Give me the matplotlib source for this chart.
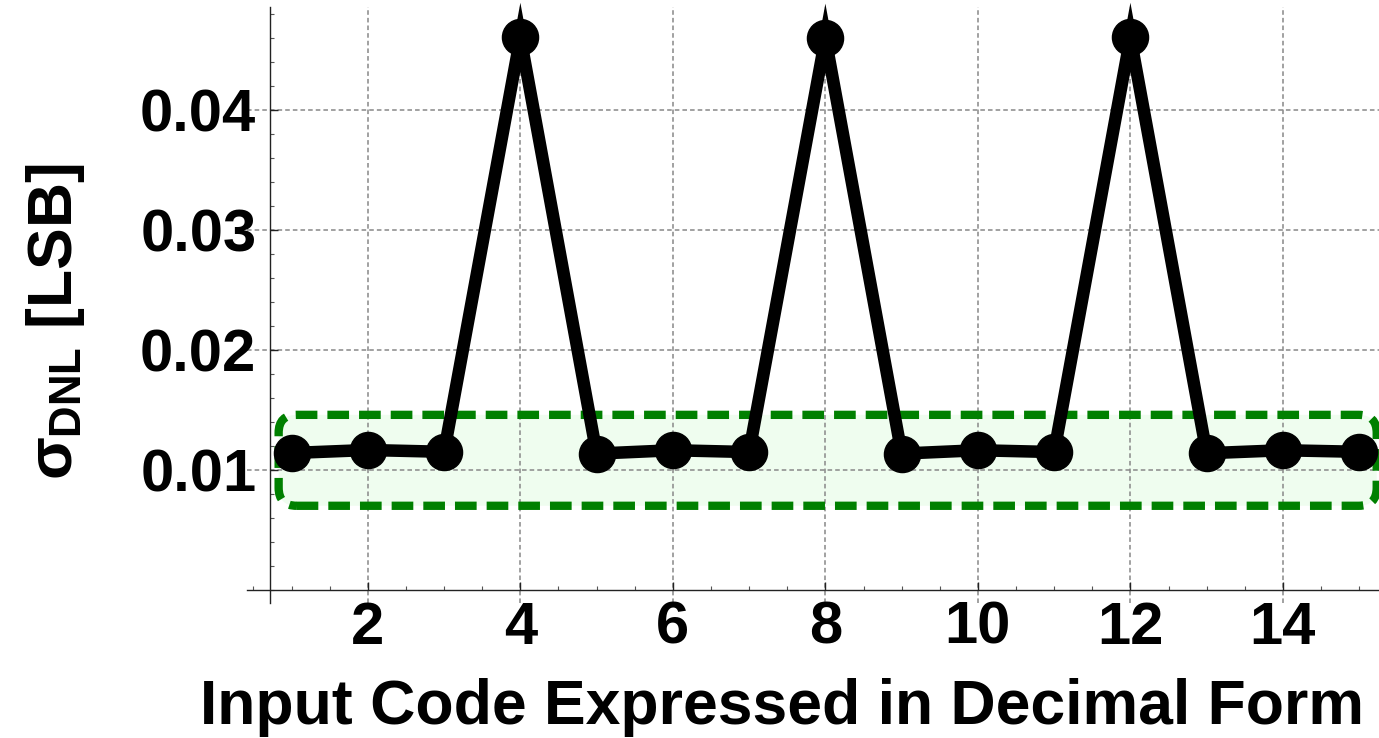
# sigma_DNL über den Eingangscode, Mathematica-Stil nachgebaut

import numpy as np
import matplotlib.pyplot as plt
from matplotlib.patches import FancyBboxPatch
from matplotlib.ticker import MultipleLocator

plt.rcParams['font.family'] = ['Liberation Sans', 'DejaVu Sans']
plt.rcParams['font.weight'] = 'bold'
plt.rcParams['mathtext.fontset'] = 'custom'
plt.rcParams['mathtext.rm'] = 'Liberation Sans:bold'
plt.rcParams['mathtext.it'] = 'Liberation Sans:bold'
plt.rcParams['mathtext.bf'] = 'Liberation Sans:bold'

# Daten
codes = np.arange(1, 16)
sigma_dnl = [0.01140, 0.01165, 0.01150, 0.04605, 0.01135,
             0.01163, 0.01148, 0.04598, 0.01135, 0.01163,
             0.01148, 0.04605, 0.01138, 0.01163, 0.01150]

xticks = [2, 4, 6, 8, 10, 12, 14]
yticks = [0.01, 0.02, 0.03, 0.04]
ytick_labels = ['0.01', '0.02', '0.03', '0.04']

# markierter Bereich (grüner Kasten)
box_x = (0.83, 15.23)
box_y = (0.0070, 0.01458)

fig = plt.figure(figsize=(13.79, 7.38), dpi=100)
ax = fig.add_axes([0.179, 0.183, 0.821, 0.8075])

ax.set_xlim(0.413, 15.26)
ax.set_ylim(-0.0011, 0.04858)

# Koordinatenachsen wie bei Mathematica: durch (0.72, 0)
for s in ['top', 'right']:
    ax.spines[s].set_visible(False)
ax.spines['left'].set_position(('data', 0.72))
ax.spines['bottom'].set_position(('data', 0))
for s in ['left', 'bottom']:
    ax.spines[s].set_linewidth(1.0)
    ax.spines[s].set_color('#222222')

ax.set_xticks(xticks)
ax.set_yticks(yticks)
ax.set_yticklabels(ytick_labels)
ax.xaxis.set_minor_locator(MultipleLocator(0.5))
ax.yaxis.set_minor_locator(MultipleLocator(0.002))
ax.tick_params(which='major', direction='in', length=6, width=1.0,
               color='#222222', labelsize=43)
ax.tick_params(which='minor', direction='in', length=3, width=0.8,
               color='#555555')
ax.tick_params(axis='y', which='major', pad=10)
ax.tick_params(axis='x', which='major', pad=8)

ax.grid(True, which='major', color='#888888', linestyle=(0, (3, 2)),
        linewidth=1.1)

# grüner Kasten mit runden Ecken
px_x = 1.0 / 76.25       # Dateneinheiten pro Pixel in x
px_y = 1.0 / 12000.0     # Dateneinheiten pro Pixel in y
radius = 18 * px_x
box_fill = FancyBboxPatch((box_x[0], box_y[0]), box_x[1] - box_x[0],
                          box_y[1] - box_y[0],
                          boxstyle=f"round,pad=0,rounding_size={radius}",
                          mutation_aspect=px_y / px_x,
                          facecolor='#effdef', edgecolor='none',
                          zorder=1, clip_on=False)
box_edge = FancyBboxPatch((box_x[0], box_y[0]), box_x[1] - box_x[0],
                          box_y[1] - box_y[0],
                          boxstyle=f"round,pad=0,rounding_size={radius}",
                          mutation_aspect=px_y / px_x,
                          facecolor='none', edgecolor='#008000',
                          linewidth=6, linestyle=(0, (2.6, 1.2)),
                          zorder=2, clip_on=False)
ax.add_patch(box_fill)
ax.add_patch(box_edge)

# Messkurve
ax.plot(codes, sigma_dnl, color='black', linewidth=9, marker='o',
        markersize=26, solid_joinstyle='miter', zorder=3, clip_on=False)

# Achsenbeschriftungen
fig.text(0.567, 0.019, 'Input Code Expressed in Decimal Form',
         fontsize=45, fontweight='bold', ha='center', va='baseline')
fig.text(0.0522, 0.5637, r'$\sigma_{\mathrm{DNL}}$ [LSB]',
         fontsize=45, fontweight='bold', rotation=90,
         rotation_mode='anchor', ha='center', va='baseline')

fig.savefig('out.png', dpi=100)
